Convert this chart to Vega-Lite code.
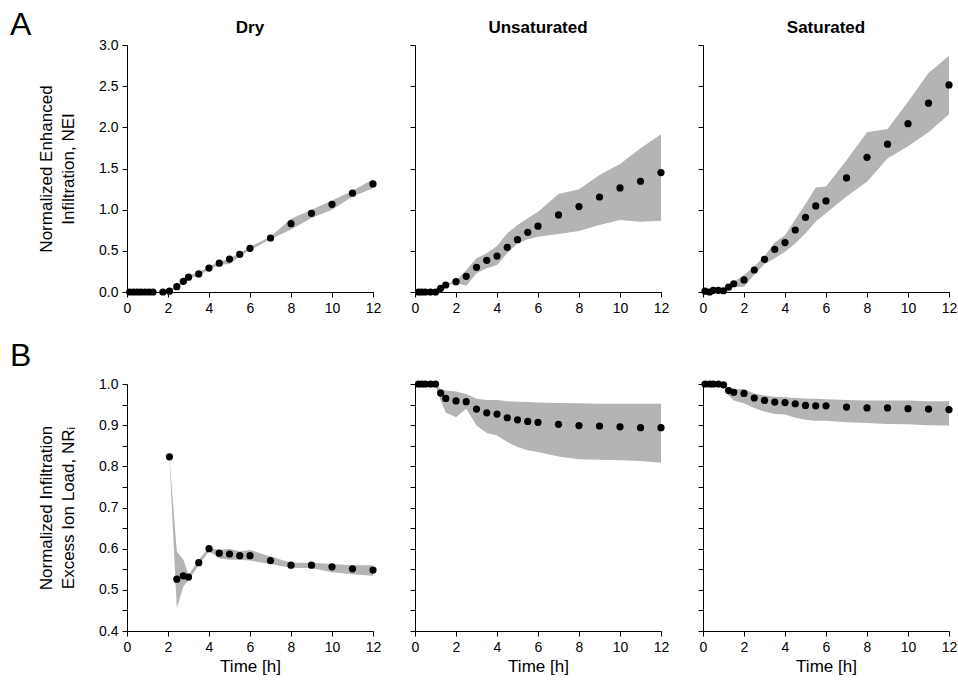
{
  "$schema": "https://vega.github.io/schema/vega-lite/v6.json",
  "padding": {"left": 10, "top": 8, "right": 2, "bottom": 2},
  "background": "white",
  "config": {
    "view": {"stroke": null},
    "font": "Liberation Sans",
    "axis": {"domainColor": "black", "tickColor": "black", "labelColor": "black", "titleColor": "black", "labelFontSize": 14, "titleFontSize": 17, "titleFontWeight": "normal", "grid": false, "tickSize": 5, "labelPadding": 4, "domainWidth": 1, "tickWidth": 1},
    "axisX": {"titleFontWeight": "normal"},
    "title": {"fontSize": 17, "fontWeight": "bold", "color": "black", "offset": 8}
  },
  "datasets": {
    "d": [
      {"r":"A","c":"Dry","t":0.13,"v":0,"lo":0,"hi":0},
      {"r":"A","c":"Dry","t":0.32,"v":0,"lo":0,"hi":0},
      {"r":"A","c":"Dry","t":0.5,"v":0,"lo":0,"hi":0},
      {"r":"A","c":"Dry","t":0.68,"v":0,"lo":0,"hi":0},
      {"r":"A","c":"Dry","t":0.88,"v":0,"lo":0,"hi":0},
      {"r":"A","c":"Dry","t":1.08,"v":0,"lo":0,"hi":0},
      {"r":"A","c":"Dry","t":1.27,"v":0,"lo":0,"hi":0},
      {"r":"A","c":"Dry","t":1.75,"v":0,"lo":0,"hi":0},
      {"r":"A","c":"Dry","t":2.07,"v":0.01,"lo":0,"hi":0.02},
      {"r":"A","c":"Dry","t":2.43,"v":0.065,"lo":0.05,"hi":0.08},
      {"r":"A","c":"Dry","t":2.75,"v":0.13,"lo":0.11,"hi":0.15},
      {"r":"A","c":"Dry","t":3.0,"v":0.18,"lo":0.16,"hi":0.2},
      {"r":"A","c":"Dry","t":3.5,"v":0.22,"lo":0.2,"hi":0.24},
      {"r":"A","c":"Dry","t":4,"v":0.29,"lo":0.27,"hi":0.31},
      {"r":"A","c":"Dry","t":4.5,"v":0.35,"lo":0.33,"hi":0.36},
      {"r":"A","c":"Dry","t":5,"v":0.4,"lo":0.34,"hi":0.41},
      {"r":"A","c":"Dry","t":5.5,"v":0.458,"lo":0.43,"hi":0.47},
      {"r":"A","c":"Dry","t":6,"v":0.53,"lo":0.51,"hi":0.55},
      {"r":"A","c":"Dry","t":7,"v":0.656,"lo":0.64,"hi":0.67},
      {"r":"A","c":"Dry","t":8,"v":0.83,"lo":0.76,"hi":0.89},
      {"r":"A","c":"Dry","t":9,"v":0.955,"lo":0.9,"hi":1.0},
      {"r":"A","c":"Dry","t":10,"v":1.065,"lo":1.0,"hi":1.11},
      {"r":"A","c":"Dry","t":11,"v":1.2,"lo":1.16,"hi":1.23},
      {"r":"A","c":"Dry","t":12,"v":1.312,"lo":1.26,"hi":1.37},

      {"r":"A","c":"Unsaturated","t":0.17,"v":0,"lo":0,"hi":0},
      {"r":"A","c":"Unsaturated","t":0.33,"v":0,"lo":0,"hi":0},
      {"r":"A","c":"Unsaturated","t":0.5,"v":0,"lo":0,"hi":0},
      {"r":"A","c":"Unsaturated","t":0.75,"v":0,"lo":0,"hi":0},
      {"r":"A","c":"Unsaturated","t":1.0,"v":0,"lo":0,"hi":0},
      {"r":"A","c":"Unsaturated","t":1.25,"v":0.045,"lo":0.04,"hi":0.05},
      {"r":"A","c":"Unsaturated","t":1.5,"v":0.085,"lo":0.08,"hi":0.09},
      {"r":"A","c":"Unsaturated","t":2,"v":0.125,"lo":0.11,"hi":0.14},
      {"r":"A","c":"Unsaturated","t":2.5,"v":0.19,"lo":0.077,"hi":0.267},
      {"r":"A","c":"Unsaturated","t":3,"v":0.3,"lo":0.227,"hi":0.41},
      {"r":"A","c":"Unsaturated","t":3.5,"v":0.385,"lo":0.288,"hi":0.47},
      {"r":"A","c":"Unsaturated","t":4,"v":0.437,"lo":0.328,"hi":0.56},
      {"r":"A","c":"Unsaturated","t":4.5,"v":0.543,"lo":0.47,"hi":0.713},
      {"r":"A","c":"Unsaturated","t":5,"v":0.636,"lo":0.59,"hi":0.814},
      {"r":"A","c":"Unsaturated","t":5.5,"v":0.725,"lo":0.64,"hi":0.895},
      {"r":"A","c":"Unsaturated","t":6,"v":0.8,"lo":0.672,"hi":0.976},
      {"r":"A","c":"Unsaturated","t":7,"v":0.936,"lo":0.705,"hi":1.19},
      {"r":"A","c":"Unsaturated","t":8,"v":1.037,"lo":0.741,"hi":1.248},
      {"r":"A","c":"Unsaturated","t":9,"v":1.154,"lo":0.814,"hi":1.42},
      {"r":"A","c":"Unsaturated","t":10,"v":1.264,"lo":0.875,"hi":1.555},
      {"r":"A","c":"Unsaturated","t":11,"v":1.345,"lo":0.854,"hi":1.746},
      {"r":"A","c":"Unsaturated","t":12,"v":1.45,"lo":0.866,"hi":1.916},

      {"r":"A","c":"Saturated","t":0.1,"v":0.01,"lo":0.01,"hi":0.01},
      {"r":"A","c":"Saturated","t":0.33,"v":0,"lo":0,"hi":0},
      {"r":"A","c":"Saturated","t":0.5,"v":0.02,"lo":0.02,"hi":0.02},
      {"r":"A","c":"Saturated","t":0.75,"v":0.02,"lo":0.02,"hi":0.02},
      {"r":"A","c":"Saturated","t":1.0,"v":0.015,"lo":0,"hi":0.03},
      {"r":"A","c":"Saturated","t":1.25,"v":0.06,"lo":0.03,"hi":0.08},
      {"r":"A","c":"Saturated","t":1.5,"v":0.1,"lo":0.06,"hi":0.12},
      {"r":"A","c":"Saturated","t":2,"v":0.146,"lo":0.065,"hi":0.207},
      {"r":"A","c":"Saturated","t":2.5,"v":0.267,"lo":0.21,"hi":0.31},
      {"r":"A","c":"Saturated","t":3,"v":0.397,"lo":0.34,"hi":0.437},
      {"r":"A","c":"Saturated","t":3.5,"v":0.518,"lo":0.41,"hi":0.6},
      {"r":"A","c":"Saturated","t":4,"v":0.6,"lo":0.49,"hi":0.69},
      {"r":"A","c":"Saturated","t":4.5,"v":0.753,"lo":0.59,"hi":0.88},
      {"r":"A","c":"Saturated","t":5,"v":0.907,"lo":0.713,"hi":1.07},
      {"r":"A","c":"Saturated","t":5.5,"v":1.045,"lo":0.855,"hi":1.27},
      {"r":"A","c":"Saturated","t":6,"v":1.106,"lo":0.955,"hi":1.28},
      {"r":"A","c":"Saturated","t":7,"v":1.385,"lo":1.16,"hi":1.6},
      {"r":"A","c":"Saturated","t":8,"v":1.636,"lo":1.34,"hi":1.94},
      {"r":"A","c":"Saturated","t":9,"v":1.795,"lo":1.62,"hi":1.98},
      {"r":"A","c":"Saturated","t":10,"v":2.045,"lo":1.77,"hi":2.31},
      {"r":"A","c":"Saturated","t":11,"v":2.293,"lo":1.94,"hi":2.66},
      {"r":"A","c":"Saturated","t":12,"v":2.515,"lo":2.16,"hi":2.87},

      {"r":"B","c":"Dry","t":2.07,"v":0.823,"lo":0.818,"hi":0.823},
      {"r":"B","c":"Dry","t":2.43,"v":0.526,"lo":0.456,"hi":0.593},
      {"r":"B","c":"Dry","t":2.75,"v":0.534,"lo":0.508,"hi":0.573},
      {"r":"B","c":"Dry","t":3.0,"v":0.531,"lo":0.523,"hi":0.536},
      {"r":"B","c":"Dry","t":3.5,"v":0.566,"lo":0.56,"hi":0.573},
      {"r":"B","c":"Dry","t":4,"v":0.6,"lo":0.594,"hi":0.603},
      {"r":"B","c":"Dry","t":4.5,"v":0.589,"lo":0.577,"hi":0.597},
      {"r":"B","c":"Dry","t":5,"v":0.587,"lo":0.573,"hi":0.6},
      {"r":"B","c":"Dry","t":5.5,"v":0.583,"lo":0.573,"hi":0.593},
      {"r":"B","c":"Dry","t":6,"v":0.583,"lo":0.571,"hi":0.597},
      {"r":"B","c":"Dry","t":7,"v":0.571,"lo":0.563,"hi":0.581},
      {"r":"B","c":"Dry","t":8,"v":0.56,"lo":0.553,"hi":0.566},
      {"r":"B","c":"Dry","t":9,"v":0.56,"lo":0.553,"hi":0.566},
      {"r":"B","c":"Dry","t":10,"v":0.556,"lo":0.543,"hi":0.563},
      {"r":"B","c":"Dry","t":11,"v":0.551,"lo":0.538,"hi":0.56},
      {"r":"B","c":"Dry","t":12,"v":0.548,"lo":0.534,"hi":0.56},

      {"r":"B","c":"Unsaturated","t":0.17,"v":1,"lo":1,"hi":1},
      {"r":"B","c":"Unsaturated","t":0.33,"v":1,"lo":1,"hi":1},
      {"r":"B","c":"Unsaturated","t":0.5,"v":1,"lo":1,"hi":1},
      {"r":"B","c":"Unsaturated","t":0.75,"v":1,"lo":1,"hi":1},
      {"r":"B","c":"Unsaturated","t":1.0,"v":1,"lo":0.996,"hi":1},
      {"r":"B","c":"Unsaturated","t":1.25,"v":0.978,"lo":0.96,"hi":0.988},
      {"r":"B","c":"Unsaturated","t":1.5,"v":0.965,"lo":0.931,"hi":0.984},
      {"r":"B","c":"Unsaturated","t":2,"v":0.959,"lo":0.919,"hi":0.982},
      {"r":"B","c":"Unsaturated","t":2.5,"v":0.957,"lo":0.94,"hi":0.976},
      {"r":"B","c":"Unsaturated","t":3,"v":0.939,"lo":0.899,"hi":0.964},
      {"r":"B","c":"Unsaturated","t":3.5,"v":0.93,"lo":0.881,"hi":0.961},
      {"r":"B","c":"Unsaturated","t":4,"v":0.927,"lo":0.875,"hi":0.961},
      {"r":"B","c":"Unsaturated","t":4.5,"v":0.918,"lo":0.859,"hi":0.958},
      {"r":"B","c":"Unsaturated","t":5,"v":0.913,"lo":0.847,"hi":0.957},
      {"r":"B","c":"Unsaturated","t":5.5,"v":0.909,"lo":0.839,"hi":0.956},
      {"r":"B","c":"Unsaturated","t":6,"v":0.907,"lo":0.835,"hi":0.955},
      {"r":"B","c":"Unsaturated","t":7,"v":0.902,"lo":0.824,"hi":0.954},
      {"r":"B","c":"Unsaturated","t":8,"v":0.899,"lo":0.817,"hi":0.953},
      {"r":"B","c":"Unsaturated","t":9,"v":0.898,"lo":0.816,"hi":0.952},
      {"r":"B","c":"Unsaturated","t":10,"v":0.896,"lo":0.815,"hi":0.952},
      {"r":"B","c":"Unsaturated","t":11,"v":0.894,"lo":0.813,"hi":0.952},
      {"r":"B","c":"Unsaturated","t":12,"v":0.894,"lo":0.809,"hi":0.952},

      {"r":"B","c":"Saturated","t":0.1,"v":1,"lo":1,"hi":1},
      {"r":"B","c":"Saturated","t":0.33,"v":1,"lo":1,"hi":1},
      {"r":"B","c":"Saturated","t":0.5,"v":1,"lo":1,"hi":1},
      {"r":"B","c":"Saturated","t":0.75,"v":1,"lo":1,"hi":1},
      {"r":"B","c":"Saturated","t":1.0,"v":0.998,"lo":0.998,"hi":1},
      {"r":"B","c":"Saturated","t":1.25,"v":0.984,"lo":0.972,"hi":0.992},
      {"r":"B","c":"Saturated","t":1.5,"v":0.98,"lo":0.96,"hi":0.988},
      {"r":"B","c":"Saturated","t":2,"v":0.977,"lo":0.953,"hi":0.988},
      {"r":"B","c":"Saturated","t":2.5,"v":0.966,"lo":0.942,"hi":0.977},
      {"r":"B","c":"Saturated","t":3,"v":0.96,"lo":0.933,"hi":0.972},
      {"r":"B","c":"Saturated","t":3.5,"v":0.956,"lo":0.927,"hi":0.969},
      {"r":"B","c":"Saturated","t":4,"v":0.955,"lo":0.926,"hi":0.968},
      {"r":"B","c":"Saturated","t":4.5,"v":0.952,"lo":0.918,"hi":0.966},
      {"r":"B","c":"Saturated","t":5,"v":0.948,"lo":0.913,"hi":0.965},
      {"r":"B","c":"Saturated","t":5.5,"v":0.947,"lo":0.911,"hi":0.964},
      {"r":"B","c":"Saturated","t":6,"v":0.947,"lo":0.911,"hi":0.963},
      {"r":"B","c":"Saturated","t":7,"v":0.944,"lo":0.907,"hi":0.961},
      {"r":"B","c":"Saturated","t":8,"v":0.942,"lo":0.905,"hi":0.96},
      {"r":"B","c":"Saturated","t":9,"v":0.942,"lo":0.903,"hi":0.96},
      {"r":"B","c":"Saturated","t":10,"v":0.94,"lo":0.902,"hi":0.96},
      {"r":"B","c":"Saturated","t":11,"v":0.939,"lo":0.9,"hi":0.958},
      {"r":"B","c":"Saturated","t":12,"v":0.938,"lo":0.899,"hi":0.958}
    ]
  },
  "data": {"name": "d"},
  "spacing": 25,
  "vconcat": [
    {
      "title": {"text": "A", "anchor": "start", "frame": "group", "fontSize": 32, "fontWeight": "normal", "dx": -117, "dy": 31},
      "spacing": 42,
      "bounds": "flush",
      "hconcat": [
        {
          "width": 246, "height": 247,
          "title": {"text": "Dry", "offset": 1},
          "transform": [{"filter": "datum.r == 'A' && datum.c == 'Dry'"}],
          "encoding": {"x": {"field": "t", "type": "quantitative", "scale": {"domain": [0, 12]}, "axis": {"values": [0,2,4,6,8,10,12], "format": "d", "title": null, "labelFlush": false}}},
          "layer": [
            {"mark": {"type": "area", "color": "#b4b4b4", "opacity": 1}, "encoding": {"y": {"field": "lo", "type": "quantitative", "scale": {"domain": [0, 3]}, "axis": {"values": [0,0.5,1,1.5,2,2.5,3], "format": ".1f", "title": ["Normalized Enhanced", "Infiltration, NEI"], "titlePadding": 21, "titleLineHeight": 22}}, "y2": {"field": "hi"}}},
            {"mark": {"type": "point", "filled": true, "color": "black", "size": 52, "opacity": 1}, "encoding": {"y": {"field": "v", "type": "quantitative", "axis": {"values": [0,0.5,1,1.5,2,2.5,3], "format": ".1f", "title": ["Normalized Enhanced", "Infiltration, NEI"], "titlePadding": 21, "titleLineHeight": 22}}}}
          ]
        },
        {
          "width": 246, "height": 247,
          "title": "Unsaturated",
          "transform": [{"filter": "datum.r == 'A' && datum.c == 'Unsaturated'"}],
          "encoding": {"x": {"field": "t", "type": "quantitative", "scale": {"domain": [0, 12]}, "axis": {"values": [0,2,4,6,8,10,12], "format": "d", "title": null, "labelFlush": false}}},
          "layer": [
            {"mark": {"type": "area", "color": "#b4b4b4", "opacity": 1}, "encoding": {"y": {"field": "lo", "type": "quantitative", "scale": {"domain": [0, 3]}, "axis": {"values": [0,0.5,1,1.5,2,2.5,3], "labels": false, "title": null}}, "y2": {"field": "hi"}}},
            {"mark": {"type": "point", "filled": true, "color": "black", "size": 52, "opacity": 1}, "encoding": {"y": {"field": "v", "type": "quantitative", "axis": {"values": [0,0.5,1,1.5,2,2.5,3], "labels": false, "title": null}}}}
          ]
        },
        {
          "width": 246, "height": 247,
          "title": "Saturated",
          "transform": [{"filter": "datum.r == 'A' && datum.c == 'Saturated'"}],
          "encoding": {"x": {"field": "t", "type": "quantitative", "scale": {"domain": [0, 12]}, "axis": {"values": [0,2,4,6,8,10,12], "format": "d", "title": null, "labelFlush": false}}},
          "layer": [
            {"mark": {"type": "area", "color": "#b4b4b4", "opacity": 1}, "encoding": {"y": {"field": "lo", "type": "quantitative", "scale": {"domain": [0, 3]}, "axis": {"values": [0,0.5,1,1.5,2,2.5,3], "labels": false, "title": null}}, "y2": {"field": "hi"}}},
            {"mark": {"type": "point", "filled": true, "color": "black", "size": 52, "opacity": 1}, "encoding": {"y": {"field": "v", "type": "quantitative", "axis": {"values": [0,0.5,1,1.5,2,2.5,3], "labels": false, "title": null}}}}
          ]
        }
      ]
    },
    {
      "title": {"text": "B", "anchor": "start", "frame": "group", "fontSize": 32, "fontWeight": "normal", "dx": -117, "offset": 4},
      "spacing": 42,
      "bounds": "flush",
      "hconcat": [
        {
          "width": 246, "height": 247,
          "transform": [{"filter": "datum.r == 'B' && datum.c == 'Dry'"}],
          "encoding": {"x": {"field": "t", "type": "quantitative", "scale": {"domain": [0, 12]}, "axis": {"values": [0,2,4,6,8,10,12], "format": "d", "title": "Time [h]", "titleFontWeight": "normal", "labelFlush": false, "titlePadding": 4}}},
          "layer": [
            {"mark": {"type": "area", "color": "#b4b4b4", "opacity": 1}, "encoding": {"y": {"field": "lo", "type": "quantitative", "scale": {"domain": [0.4, 1.0]}, "axis": {"values": [0.4,0.45,0.5,0.55,0.6,0.65,0.7,0.75,0.8,0.85,0.9,0.95,1.0], "labelExpr": "abs(datum.value*10 - round(datum.value*10)) < 0.01 ? format(datum.value, '.1f') : ''", "title": ["Normalized Infiltration", "Excess Ion Load, NRᵢ"], "titlePadding": 21, "titleLineHeight": 22}}, "y2": {"field": "hi"}}},
            {"mark": {"type": "point", "filled": true, "color": "black", "size": 52, "opacity": 1}, "encoding": {"y": {"field": "v", "type": "quantitative", "axis": {"values": [0.4,0.45,0.5,0.55,0.6,0.65,0.7,0.75,0.8,0.85,0.9,0.95,1.0], "labelExpr": "abs(datum.value*10 - round(datum.value*10)) < 0.01 ? format(datum.value, '.1f') : ''", "title": ["Normalized Infiltration", "Excess Ion Load, NRᵢ"], "titlePadding": 21, "titleLineHeight": 22}}}}
          ]
        },
        {
          "width": 246, "height": 247,
          "transform": [{"filter": "datum.r == 'B' && datum.c == 'Unsaturated'"}],
          "encoding": {"x": {"field": "t", "type": "quantitative", "scale": {"domain": [0, 12]}, "axis": {"values": [0,2,4,6,8,10,12], "format": "d", "title": "Time [h]", "titleFontWeight": "normal", "labelFlush": false, "titlePadding": 4}}},
          "layer": [
            {"mark": {"type": "area", "color": "#b4b4b4", "opacity": 1}, "encoding": {"y": {"field": "lo", "type": "quantitative", "scale": {"domain": [0.4, 1.0]}, "axis": {"values": [0.4,0.45,0.5,0.55,0.6,0.65,0.7,0.75,0.8,0.85,0.9,0.95,1.0], "labels": false, "title": null}}, "y2": {"field": "hi"}}},
            {"mark": {"type": "point", "filled": true, "color": "black", "size": 52, "opacity": 1}, "encoding": {"y": {"field": "v", "type": "quantitative", "axis": {"values": [0.4,0.45,0.5,0.55,0.6,0.65,0.7,0.75,0.8,0.85,0.9,0.95,1.0], "labels": false, "title": null}}}}
          ]
        },
        {
          "width": 246, "height": 247,
          "transform": [{"filter": "datum.r == 'B' && datum.c == 'Saturated'"}],
          "encoding": {"x": {"field": "t", "type": "quantitative", "scale": {"domain": [0, 12]}, "axis": {"values": [0,2,4,6,8,10,12], "format": "d", "title": "Time [h]", "titleFontWeight": "normal", "labelFlush": false, "titlePadding": 4}}},
          "layer": [
            {"mark": {"type": "area", "color": "#b4b4b4", "opacity": 1}, "encoding": {"y": {"field": "lo", "type": "quantitative", "scale": {"domain": [0.4, 1.0]}, "axis": {"values": [0.4,0.45,0.5,0.55,0.6,0.65,0.7,0.75,0.8,0.85,0.9,0.95,1.0], "labels": false, "title": null}}, "y2": {"field": "hi"}}},
            {"mark": {"type": "point", "filled": true, "color": "black", "size": 52, "opacity": 1}, "encoding": {"y": {"field": "v", "type": "quantitative", "axis": {"values": [0.4,0.45,0.5,0.55,0.6,0.65,0.7,0.75,0.8,0.85,0.9,0.95,1.0], "labels": false, "title": null}}}}
          ]
        }
      ]
    }
  ]
}
